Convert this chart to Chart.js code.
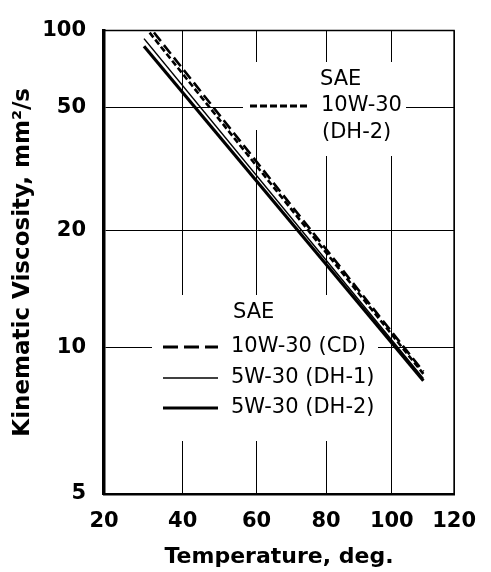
<!DOCTYPE html>
<html>
<head>
<meta charset="utf-8">
<script src="https://cdn.jsdelivr.net/npm/chart.js@4/dist/chart.umd.min.js"></script>
<style>
  html, body { margin: 0; padding: 0; background: #fff; }
  canvas { display: block; }
</style>
</head>
<body>
<canvas id="chart" width="491" height="572"></canvas>
<script>
// Values (temperature in deg C, viscosity in mm2/s)
const TEMPERATURE = [30, 110];
const VISC_10W30_CD = [111, 8.8];
const VISC_10W30_DH2 = [105, 8.7];
const VISC_5W30_DH1 = [92.5, 8.5];
const VISC_5W30_DH2 = [86, 8.4];

const X_TICKS = [20, 40, 60, 80, 100, 120];
const Y_TICKS = [5, 10, 20, 50, 100];

// Temperature axis: log of absolute temperature
const kelvinLog = t => Math.log10(t + 273.15);
// Viscosity axis: Walther (ASTM D341) log-log scale
const walther = v => Math.log10(Math.log10(v + 0.7));
const unWalther = w => Math.pow(10, Math.pow(10, w)) - 0.7;

class KelvinLogScale extends Chart.LinearScale {
    static id = "kelvinLog";
    static defaults = Chart.LinearScale.defaults;
    getPixelForValue(value) {
        const a = kelvinLog(this.min), b = kelvinLog(this.max);
        return this.getPixelForDecimal((kelvinLog(value) - a) / (b - a));
    }
    getValueForPixel(pixel) {
        const a = kelvinLog(this.min), b = kelvinLog(this.max);
        return Math.pow(10, a + this.getDecimalForPixel(pixel) * (b - a)) - 273.15;
    }
}

class WaltherScale extends Chart.LinearScale {
    static id = "walther";
    static defaults = Chart.LinearScale.defaults;
    getPixelForValue(value) {
        const a = walther(this.min), b = walther(this.max);
        return this.getPixelForDecimal((walther(value) - a) / (b - a));
    }
    getValueForPixel(pixel) {
        const a = walther(this.min), b = walther(this.max);
        return unWalther(a + this.getDecimalForPixel(pixel) * (b - a));
    }
}

Chart.register(KelvinLogScale, WaltherScale);

Chart.defaults.font.family = "'DejaVu Sans', sans-serif";
Chart.defaults.color = "#000";

function points(values) {
    return TEMPERATURE.map((t, i) => ({ x: t, y: values[i] }));
}

function sample(ctx, x1, x2, y, width, dash) {
    ctx.save();
    ctx.lineWidth = width;
    ctx.setLineDash(dash);
    ctx.beginPath();
    ctx.moveTo(x1, y);
    ctx.lineTo(x2, y);
    ctx.stroke();
    ctx.restore();
}

// labels written inside the plot, on white patches over the grid
const notesPlugin = {
    id: "notes",
    beforeDatasetsDraw(chart) {
        const ctx = chart.ctx;
        ctx.save();
        ctx.fillStyle = "#fff";
        ctx.fillRect(243, 62, 70, 68);
        ctx.fillRect(310, 62, 96, 94);
        ctx.fillRect(152, 295, 226, 146);

        ctx.fillStyle = "#000";
        ctx.strokeStyle = "#000";
        ctx.font = "21px 'DejaVu Sans'";
        ctx.textAlign = "left";
        ctx.textBaseline = "middle";

        ctx.fillText("SAE", 320, 80);
        ctx.fillText("10W-30", 321, 106);
        ctx.fillText("(DH-2)", 322, 133);
        sample(ctx, 250, 307, 106, 3, [7, 3]);

        ctx.fillText("SAE", 233, 313);
        ctx.fillText("10W-30 (CD)", 231, 347);
        ctx.fillText("5W-30 (DH-1)", 231, 378);
        ctx.fillText("5W-30 (DH-2)", 231, 408);
        sample(ctx, 163, 218, 347, 3, [15, 6]);
        sample(ctx, 163, 218, 378, 1.3, []);
        sample(ctx, 163, 218, 408, 3, []);
        ctx.restore();
    },
    afterDraw(chart) {
        const { left, right, top, bottom } = chart.chartArea;
        const ctx = chart.ctx;
        ctx.save();
        ctx.strokeStyle = "#000";
        ctx.lineWidth = 1.5;
        ctx.beginPath();
        ctx.moveTo(left, top);
        ctx.lineTo(right, top);
        ctx.lineTo(right, bottom);
        ctx.stroke();
        ctx.restore();
    }
};

const chart = new Chart(document.getElementById("chart"), {
    type: "line",
    data: {
        datasets: [
            {
                label: "10W-30 (CD)",
                data: points(VISC_10W30_CD),
                borderColor: "#000",
                borderWidth: 2.6,
                borderDash: [11, 5]
            },
            {
                label: "10W-30 (DH-2)",
                data: points(VISC_10W30_DH2),
                borderColor: "#000",
                borderWidth: 2.6,
                borderDash: [6, 3]
            },
            {
                label: "5W-30 (DH-1)",
                data: points(VISC_5W30_DH1),
                borderColor: "#000",
                borderWidth: 1.5
            },
            {
                label: "5W-30 (DH-2)",
                data: points(VISC_5W30_DH2),
                borderColor: "#000",
                borderWidth: 3.2
            }
        ]
    },
    options: {
        responsive: false,
        animation: false,
        devicePixelRatio: 1,
        layout: { padding: { top: 29, right: 33, bottom: 0, left: 0 } },
        elements: { point: { radius: 0 }, line: { tension: 0 } },
        plugins: {
            legend: { display: false },
            tooltip: { enabled: false }
        },
        scales: {
            x: {
                type: "kelvinLog",
                min: 20,
                max: 120,
                bounds: "data",
                afterBuildTicks: scale => { scale.ticks = X_TICKS.map(v => ({ value: v })); },
                afterFit: scale => { scale.height = 78; },
                grid: { color: "#000", lineWidth: 1, drawTicks: false },
                border: { color: "#000", width: 2.6 },
                ticks: {
                    padding: 15,
                    maxRotation: 0,
                    font: { size: 21, weight: "bold" },
                    callback: v => String(v)
                },
                title: {
                    display: true,
                    text: "Temperature, deg.",
                    font: { size: 22, weight: "bold" },
                    padding: { top: 0, bottom: 2 }
                }
            },
            y: {
                type: "walther",
                min: 5,
                max: 100,
                bounds: "data",
                afterBuildTicks: scale => { scale.ticks = Y_TICKS.map(v => ({ value: v })); },
                afterFit: scale => { scale.width = 104; },
                grid: { color: "#000", lineWidth: 1, drawTicks: false },
                border: { color: "#000", width: 3.5 },
                ticks: {
                    padding: 18,
                    font: { size: 21, weight: "bold" },
                    callback: v => String(v)
                },
                title: {
                    display: true,
                    text: "Kinematic Viscosity, mm²/s",
                    font: { size: 23, weight: "bold" },
                    padding: { top: 9, bottom: 0 }
                }
            }
        }
    },
    plugins: [notesPlugin]
});
</script>
</body>
</html>
